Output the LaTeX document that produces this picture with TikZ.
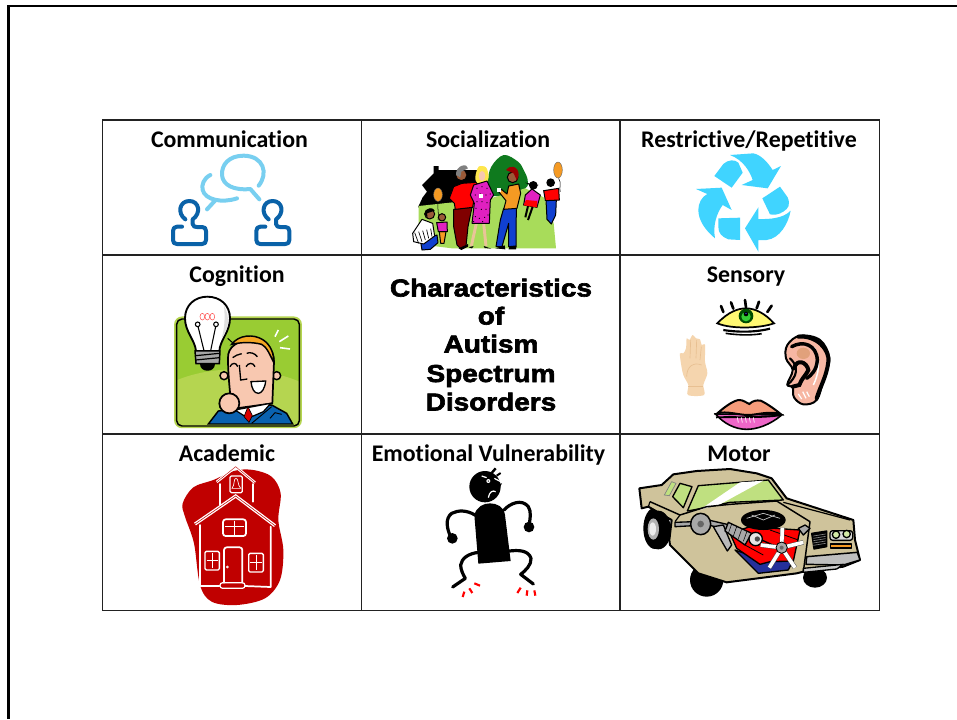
\documentclass[tikz,border=0pt]{standalone}
\usepackage{fontspec}
\setmainfont[RawFeature={-liga}]{Carlito}
\newfontfamily\blackfont[FakeBold=2.6,FakeStretch=1.14]{Liberation Sans Bold}
\definecolor{gridc}{HTML}{222222}
\definecolor{lblue}{HTML}{78CFF0}
\definecolor{dblue}{HTML}{0A62A8}
\definecolor{recy}{HTML}{40D4FF}
\definecolor{lawn}{HTML}{A8DC5A}
\definecolor{bush}{HTML}{0F7A1E}
\definecolor{orng}{HTML}{F59A23}
\definecolor{mag}{HTML}{E020C0}
\definecolor{pants}{HTML}{1040D0}
\definecolor{dred}{HTML}{800000}
\definecolor{skin}{HTML}{9A5A38}
\definecolor{grn}{HTML}{99CC33}
\definecolor{lgrn}{HTML}{B5D550}
\definecolor{suit}{HTML}{0A62B0}
\definecolor{face}{HTML}{F8C8B0}
\definecolor{hairo}{HTML}{F5A623}
\definecolor{hand}{HTML}{F5D5AE}
\definecolor{earp}{HTML}{F7B7A3}
\definecolor{lipt}{HTML}{F59B7A}
\definecolor{lipb}{HTML}{EE66C8}
\definecolor{schl}{HTML}{C00000}
\definecolor{tan}{HTML}{CFC39B}
\definecolor{glass}{HTML}{BFE080}
\definecolor{steel}{HTML}{A8A8A8}
\definecolor{navy}{HTML}{25309A}
\tikzset{
  lbl/.style={font=\fontsize{17.9}{20}\selectfont\bfseries,text=black,inner sep=0pt,anchor=base},
  ctr/.style={font=\fontsize{18.4}{20}\selectfont\blackfont,text=black,inner sep=0pt,anchor=base},
  grid line/.style={draw=gridc,line width=0.8pt},
  speech/.style={draw=lblue,line width=3pt,line cap=round,line join=round},
  person/.style={draw=dblue,line width=3pt,line cap=round,line join=round},
  ink/.style={draw=black,line width=1pt,line join=round},
  pplink/.style={draw=black,line width=0.75pt,line join=round},
  wline/.style={draw=white,line width=1.3pt,line join=round,line cap=round},
  bline/.style={draw=black,line width=2.4pt,line cap=round,line join=round},
  rtick/.style={draw=red,line width=1.6pt}
}
\begin{document}
\begin{tikzpicture}[x=0.75pt,y=-0.75pt]
\useasboundingbox (0,0) rectangle (957,719);
\fill[white] (0,0) rectangle (957,719);
% slide frame
\draw[black,line width=2pt] (957,6) -- (8.5,6) -- (8.5,719);
% table
\draw[grid line] (102.5,120) rectangle (879.5,610.5);
\draw[grid line] (361.5,120) -- (361.5,610.5);
\draw[grid line] (620,120) -- (620,610.5);
\draw[grid line] (102.5,255) -- (879.5,255);
\draw[grid line] (102.5,434) -- (879.5,434);
% labels
\node[lbl] (comm) at (229.5,147.5) {Communication};
\node[lbl] (soc) at (488,147.5) {Socialization};
\node[lbl] (rest) at (749,147.5) {Restrictive/Repetitive};
\node[lbl] (cog) at (237,282.5) {Cognition};
\node[lbl] (sens) at (746,282.5) {Sensory};
\node[lbl] (acad) at (227,461.5) {Academic};
\node[lbl] (emot) at (488.5,461.5) {Emotional Vulnerability};
\node[lbl] (motor) at (739,461.5) {Motor};
\node[ctr] (c1) at (491,296.5) {Characteristics};
\node[ctr] (c2) at (491,324.5) {of};
\node[ctr] (c3) at (491,352.5) {Autism};
\node[ctr] (c4) at (491,382) {Spectrum};
\node[ctr] (c5) at (491,410.5) {Disorders};

% ---- Communication
\begin{scope}[shift={(102,120)},scale=1/3]
\draw[speech] (470,197) .. controls (500,160) and (485,108) .. (425,107)
  .. controls (380,107) and (358,135) .. (360,165)
  .. controls (362,195) and (395,212) .. (445,207) -- (472,238);
\draw[speech] (325,165) .. controls (305,175) and (298,195) .. (302,210)
  .. controls (310,240) and (360,250) .. (405,235);
\draw[speech] (338,243) -- (315,268);
\foreach \dx in {0,250}{
\draw[person,shift={(\dx,0)}] (250,298) .. controls (225,280) and (232,243) .. (262,243)
  .. controls (292,243) and (298,280) .. (272,298) -- (272,312) .. controls (272,320) and (280,321) .. (285,321)
  -- (300,321) .. controls (308,321) and (312,325) .. (312,333) -- (312,360)
  .. controls (312,368) and (308,372) .. (300,372) -- (225,372) .. controls (217,372) and (213,368) .. (213,360)
  -- (213,333) .. controls (213,325) and (217,320) .. (225,320) -- (240,320);
}
\end{scope}

% ---- Socialization
\begin{scope}[shift={(362,120)},scale=1/3]
\fill[black] (180,195) -- (215,160) -- (215,138) -- (230,138) -- (230,150) -- (345,150) -- (385,195) -- (385,255) -- (168,262) -- (182,232) -- (195,215) -- cycle;
\fill[bush] plot[smooth cycle,tension=0.6] coordinates {(378,185) (388,140) (425,105) (468,125) (485,150) (497,180) (490,205) (430,225) (385,225)};
\fill[lawn] (170,258) -- (385,235) -- (490,205) -- (545,232) -- (575,310) -- (582,385) -- (270,385) -- (190,375) -- (170,330) -- cycle;
% balloons
\draw[black,line width=0.4pt] (228,245) .. controls (225,265) and (232,280) .. (228,300);
\draw[black,line width=0.4pt] (590,175) .. controls (600,190) and (590,205) .. (595,215);
\filldraw[fill=orng,draw=black!60,line width=0.3pt] (228,224) ellipse (13 and 20);
\filldraw[fill=orng,draw=black!60,line width=0.3pt] (588,150) ellipse (13 and 24);
% girl right
\draw[black,line width=1.5pt] (498,258) -- (490,292);
\draw[black,line width=1.5pt] (512,260) -- (498,300);
\fill[black] (490,188) -- (530,195) -- (512,200) -- cycle;
\fill[black] (514,196) circle (13);
\filldraw[fill=mag,pplink] (490,225) -- (510,207) -- (535,225) -- (525,262) -- (485,255) -- cycle;
\fill[red] (492,240) -- (525,243) -- (525,262) -- (485,256) -- cycle;
% boy right
\fill[black] (566,188) circle (13);
\filldraw[fill=pants,pplink] (552,240) -- (583,240) -- (581,285) -- (568,312) -- (555,298) -- cycle;
\filldraw[fill=red,pplink] (545,212) -- (590,205) -- (592,240) -- (550,242) -- cycle;
% crouched man
\filldraw[fill=skin,pplink] (203,282) circle (15);
\fill[black] (188,282) .. controls (190,262) and (215,260) .. (218,272) -- (195,280) -- (197,295) -- cycle;
\filldraw[fill=pants,pplink] (175,360) -- (225,345) -- (228,368) -- (205,388) -- (180,390) -- cycle;
\filldraw[fill=white,pplink] (152,340) -- (180,298) -- (212,310) -- (218,348) -- (185,372) -- (155,365) -- cycle;
\foreach \k in {0,1,2,3,4}{\draw[black,line width=0.5pt] (158+12*\k,338-3*\k) -- (170+10*\k,370-5*\k);}
% child
\filldraw[fill=skin,pplink] (240,292) circle (11);
\filldraw[fill=orng,pplink] (232,335) -- (252,335) -- (246,370) -- (236,370) -- cycle;
\filldraw[fill=mag,pplink] (224,308) -- (255,306) -- (256,335) -- (229,335) -- cycle;
% man 1
\filldraw[fill=skin,pplink] (298,165) circle (17);
\fill[gray] (282,165) .. controls (280,135) and (318,128) .. (318,145) -- (298,155) -- (295,172) -- cycle;
\filldraw[fill=dred,pplink] (275,268) -- (330,262) -- (318,320) -- (312,378) -- (295,385) -- (285,375) -- (275,320) -- cycle;
\filldraw[fill=red,pplink] (262,235) -- (275,200) -- (300,190) -- (345,187) -- (332,262) -- (280,268) -- (277,250) -- cycle;
\fill[black] (290,385) -- (318,372) -- (318,380) -- (298,390) -- cycle;
% woman
\draw[hand!80!brown,line width=2.2pt] (343,310) -- (328,378);
\draw[hand!80!brown,line width=2.2pt] (365,310) -- (372,378);
\fill[black] (320,382) -- (335,378) -- (330,385) -- cycle;
\fill[black] (365,378) -- (388,386) -- (368,384) -- cycle;
\fill[yellow!80!orange!70!white] plot[smooth cycle] coordinates {(340,170) (350,140) (372,142) (380,170) (372,190) (345,188)};
\fill[face] (360,168) ellipse (10 and 15);
\filldraw[fill=mag,pplink] (335,195) -- (375,183) -- (395,225) -- (385,240) -- (382,310) -- (330,310) -- (337,250) -- (325,225) -- cycle;
\foreach \a/\b in {345/205,360/200,375/205,340/225,355/222,372/225,385/222,345/245,360/245,375/248,342/265,358/268,372/268,340/290,352/295,368/292,378/285,335/305,362/305}{\fill[black] (\a,\b) circle (1.8);}
\fill[white] (350,222) rectangle (362,235);
% man 2
\filldraw[fill=skin,pplink] (452,172) circle (16);
\fill[schl!80!black] (432,150) .. controls (440,135) and (470,135) .. (470,165) -- (465,182) -- (455,160) -- cycle;
\filldraw[fill=pants,pplink] (425,265) -- (463,262) -- (462,378) -- (440,380) -- (440,310) -- (420,380) -- (402,380) -- (415,300) -- cycle;
\filldraw[fill=orng,pplink] (440,198) -- (470,192) -- (476,220) -- (465,265) -- (425,268) -- (432,242) -- (410,215) -- (418,208) -- (435,222) -- cycle;
\fill[white] (404,203) rectangle (416,216);
\fill[black] (400,385) -- (428,376) -- (430,388) -- cycle;
\fill[black] (442,378) -- (464,378) -- (462,388) -- (440,388) -- cycle;
\end{scope}

% ---- Recycle
\begin{scope}[shift={(620,120)},scale=1/3]
\fill[recy] (330,105) -- (400,100) .. controls (425,105) and (445,130) .. (458,150) -- (483,138) -- (443,205) -- (365,195) -- (398,180) .. controls (390,155) and (370,120) .. (330,105) -- cycle;
\fill[recy] (283,168) -- (310,132) .. controls (325,118) and (345,118) .. (355,128) -- (368,158) -- (335,203) -- cycle;
\fill[recy] (427,235) -- (480,200) -- (503,232) .. controls (512,255) and (505,265) .. (490,275) .. controls (475,285) and (460,285) .. (450,283) -- cycle;
\fill[recy] (415,262) -- (415,297) .. controls (450,298) and (490,295) .. (512,272) .. controls (505,310) and (480,355) .. (440,360) -- (415,360) -- (415,395) -- (375,325) -- cycle;
\fill[recy] (228,207) -- (305,203) -- (335,270) -- (308,255) .. controls (290,280) and (278,315) .. (285,355) .. controls (255,330) and (235,300) .. (235,270) .. controls (235,250) and (245,230) .. (262,222) -- cycle;
\fill[recy] (295,295) -- (360,293) -- (360,360) -- (325,358) .. controls (305,350) and (295,340) .. (295,320) -- cycle;
\end{scope}

% ---- Cognition
\begin{scope}[shift={(150,285)},scale=1/3]
\filldraw[fill=grn,draw=lgrn,line width=1.8pt,rounded corners=5pt] (76,98) rectangle (452,426);
\begin{scope}
\clip[rounded corners=5pt] (80,102) rectangle (448,423);
\fill[lgrn] (70,290) .. controls (180,240) and (340,240) .. (460,295) -- (460,430) -- (70,430) -- cycle;
\end{scope}
\draw[black,line width=1.1pt,rounded corners=4pt] (80,102) rectangle (448,423);
% bulb
\filldraw[fill=white,draw=black,line width=1.4pt] (138,198) .. controls (135,165) and (105,140) .. (105,100)
  .. controls (105,60) and (135,35) .. (172,35) .. controls (210,35) and (240,60) .. (240,100)
  .. controls (240,140) and (210,165) .. (208,198) -- cycle;
\fill[black!12] (222,62) .. controls (240,95) and (238,130) .. (215,160) .. controls (225,125) and (225,95) .. (222,62) -- cycle;
\draw[black,line width=0.8pt] (143,120) -- (162,197);
\draw[black,line width=0.8pt] (198,120) -- (182,197);
\filldraw[fill=white,draw=black,line width=0.8pt] (143,118) circle (7);
\filldraw[fill=white,draw=black,line width=0.8pt] (198,118) circle (7);
\draw[red!70,line width=0.4pt] (157,95) ellipse (7 and 10);
\draw[red!70,line width=0.4pt] (172,95) ellipse (7 and 10);
\draw[red!70,line width=0.4pt] (187,95) ellipse (7 and 10);
\filldraw[fill=gray!70,draw=black,line width=1.1pt] (135,198) -- (210,198) -- (208,236) -- (138,236) -- cycle;
\draw[black,line width=0.9pt] (137,212) -- (208,205);
\draw[black,line width=0.9pt] (137,225) -- (208,218);
\fill[black] (150,236) .. controls (150,265) and (195,265) .. (195,236) -- cycle;
% man
\filldraw[fill=suit,draw=black,line width=1.1pt] (175,417) -- (205,378) -- (365,360) -- (410,385) -- (428,417) -- cycle;
\draw[black,line width=0.7pt] (305,415) -- (365,365);
\draw[black,line width=0.7pt] (360,400) -- (375,383) -- (395,388);
\filldraw[fill=face,draw=black,line width=1.1pt] (222,272) circle (12);
\filldraw[fill=face,draw=black,line width=1.1pt] (380,272) circle (12);
\filldraw[fill=face,draw=black,line width=1.3pt] (234,220) .. controls (232,185) and (265,165) .. (305,165) .. controls (345,165) and (372,190) .. (372,230) -- (367,355) -- (245,372) .. controls (240,320) and (234,270) .. (234,220) -- cycle;
\filldraw[fill=white,draw=black,line width=0.9pt] (255,375) -- (362,355) -- (340,380) -- (305,395) -- (282,392) -- cycle;
\filldraw[fill=red!85!black,draw=black,line width=0.5pt] (294,365) -- (307,392) -- (297,412) -- (282,395) -- cycle;
\filldraw[fill=hairo,draw=black,line width=1.1pt] (245,178) .. controls (265,150) and (310,145) .. (340,165) .. controls (362,180) and (372,205) .. (371,232) .. controls (360,210) and (350,185) .. (335,178) .. controls (305,170) and (270,172) .. (245,178) -- cycle;
\draw[black,line width=0.8pt] (233,160) -- (250,175);
\draw[black,line width=1pt] (248,218) .. controls (255,212) and (265,208) .. (275,206);
\draw[black,line width=1pt] (290,205) .. controls (300,200) and (315,205) .. (322,215);
\draw[black,line width=1pt] (240,245) .. controls (245,232) and (260,232) .. (263,245);
\draw[black,line width=1pt] (288,245) .. controls (295,232) and (310,232) .. (315,245);
\draw[black,line width=1pt] (268,240) -- (272,285) -- (292,282);
\filldraw[fill=white,draw=black,line width=1pt] (303,290) -- (347,288) .. controls (345,310) and (335,325) .. (325,325) .. controls (312,325) and (305,310) .. (303,290) -- cycle;
\filldraw[fill=face,draw=black,line width=1.3pt] (238,355) circle (30);
\draw[white,line width=1.2pt] (375,155) -- (385,135);
\draw[white,line width=1.2pt] (388,170) -- (415,153);
\draw[white,line width=1.2pt] (390,188) -- (420,192);
\end{scope}

% ---- Sensory
\begin{scope}[shift={(660,290)},scale=1/3]
% eye
\filldraw[fill=yellow!55,draw=black,line width=1.3pt] (172,100) .. controls (205,65) and (235,55) .. (258,55) .. controls (285,55) and (315,70) .. (342,100) .. controls (300,115) and (215,118) .. (172,100) -- cycle;
\fill[black!70!green] (258,78) circle (22);
\fill[green!60!gray] (258,80) circle (14);
\fill[black] (258,72) circle (7);
\fill[blue!70] (258,70) circle (2);
\foreach \a/\b/\c/\d in {183/48/190/66,213/37/220/56,255/30/258/52,297/35/290/55,335/47/322/66}{\draw[black,line width=2pt,line cap=round] (\a,\b) -- (\c,\d);}
\draw[black,line width=1.6pt] (190,120) .. controls (240,128) and (290,126) .. (330,116);
\draw[black,line width=1.2pt] (197,130) .. controls (240,136) and (275,136) .. (305,131);
% hand
\fill[hand] plot[smooth cycle,tension=0.5] coordinates {(84,315) (85,285) (70,255) (62,215) (60,190) (70,190) (78,175) (80,145) (88,150) (98,135) (108,145) (120,148) (125,165) (135,165) (135,215) (142,250) (130,285) (132,315)};
\draw[hand!75!brown,line width=0.5pt] (92,150) -- (90,205);
\draw[hand!75!brown,line width=0.5pt] (110,150) -- (108,205);
\draw[hand!75!brown,line width=0.5pt] (124,170) -- (120,210);
\draw[hand!75!brown,line width=0.5pt] (80,260) .. controls (80,230) and (100,215) .. (125,225);
\draw[hand!75!brown,line width=0.5pt] (85,288) -- (130,288);
% ear
\filldraw[fill=earp,draw=black,line width=1.5pt] plot[smooth cycle,tension=0.6] coordinates {(382,165) (420,137) (480,150) (508,205) (490,270) (470,330) (430,343) (402,322) (398,292) (382,283) (398,240) (378,205)};
\draw[black,line width=3pt,line cap=round] (415,140) .. controls (470,135) and (510,180) .. (505,215) .. controls (500,260) and (480,290) .. (470,325);
\draw[white,line width=1.1pt] (462,172) .. controls (485,210) and (475,255) .. (460,285);
\fill[earp!60!brown] (430,190) ellipse (20 and 17);
\draw[black,line width=2.6pt,line cap=round] (395,170) .. controls (430,150) and (470,165) .. (472,210) .. controls (470,240) and (455,255) .. (440,265);
\draw[black,line width=3pt,line cap=round] (402,235) .. controls (410,205) and (440,215) .. (445,240) .. controls (435,260) and (425,265) .. (418,285) -- (398,290);
\draw[black,line width=1.6pt,line cap=round] (390,205) .. controls (418,230) and (412,260) .. (382,285);
\draw[white,line width=0.9pt] (415,312) -- (425,327);
\draw[white,line width=0.9pt] (428,305) -- (438,325);
\draw[white,line width=0.9pt] (440,305) -- (448,320);
% lips
\filldraw[fill=lipb,draw=black,line width=1.2pt] (167,372) -- (365,375) .. controls (330,405) and (290,418) .. (260,418) .. controls (225,418) and (190,400) .. (167,372) -- cycle;
\filldraw[fill=lipt,draw=black,line width=1.5pt] (172,370) .. controls (200,345) and (225,330) .. (238,330) .. controls (250,330) and (258,338) .. (268,342) .. controls (278,332) and (290,330) .. (302,332) .. controls (320,340) and (345,358) .. (362,372) .. controls (325,362) and (290,375) .. (265,375) .. controls (235,375) and (200,362) .. (172,370) -- cycle;
\draw[black,line width=1.4pt] (168,382) .. controls (220,380) and (300,385) .. (365,375);
\foreach \k in {0,1,2,3,4}{\draw[white,line width=0.5pt] (232+12*\k,382) -- (235+12*\k,398);}
\end{scope}

% ---- Academic
\begin{scope}[shift={(170,460)},scale=1/3]
\fill[schl] plot[smooth cycle,tension=0.55] coordinates {(38,130) (70,82) (130,60) (195,32) (250,30) (305,50) (332,100) (325,180) (340,270) (330,360) (285,415) (200,435) (125,425) (90,375) (72,250) (45,170)};
% walls and floor
\draw[wline] (90,195) -- (90,378) -- (148,378);
\draw[wline] (302,200) -- (302,381) -- (225,378);
\draw[wline] (150,135) -- (150,72);
\draw[wline] (250,125) -- (250,72);
% roof
\draw[white,line width=2.4pt,line join=miter] (75,192) -- (197,108) -- (315,197);
\draw[schl,line width=0.4pt,line join=miter] (75,192) -- (197,108) -- (315,197);
\draw[white,line width=2pt,line join=miter] (140,66) -- (197,20) -- (255,68);
\draw[schl,line width=0.3pt,line join=miter] (140,66) -- (197,20) -- (255,68);
% bell
\draw[wline,line width=0.9pt,rounded corners=1pt] (180,48) rectangle (217,98);
\draw[white,line width=0.5pt] (186,85) .. controls (195,75) and (190,55) .. (198,55) .. controls (206,55) and (202,75) .. (212,85) -- cycle;
% upper window
\draw[wline,rounded corners=2pt] (159,178) rectangle (228,228);
\draw[white,line width=0.5pt] (165,198) -- (222,198);
\draw[white,line width=0.5pt] (192,182) -- (192,224);
% door
\draw[wline,rounded corners=2pt] (162,368) -- (162,262) -- (217,262) -- (217,368);
\draw[wline,line width=0.9pt,rounded corners=2pt] (150,368) rectangle (225,385);
\draw[white,line width=0.5pt] (172,321) circle (3);
% side windows
\draw[wline,line width=1pt,rounded corners=1pt] (105,274) rectangle (148,330);
\draw[white,line width=0.5pt] (110,300) -- (144,300);
\draw[white,line width=0.5pt] (127,280) -- (127,325);
\draw[wline,line width=1pt,rounded corners=1pt] (236,280) rectangle (280,336);
\draw[white,line width=0.5pt] (241,306) -- (276,306);
\draw[white,line width=0.5pt] (258,285) -- (258,330);
\end{scope}

% ---- Emotional
\begin{scope}[shift={(430,465)},scale=1/3]
\fill[black] (165,65) circle (47);
\fill[black] (195,60) -- (216,55) -- (205,75) -- cycle;
\draw[white,line width=0.9pt] (155,33) -- (170,38);
\fill[white] (175,48) circle (6);
\fill[black] (175,48) circle (2);
\draw[white,line width=0.9pt] (193,40) -- (212,50);
\draw[white,line width=0.9pt] (175,98) .. controls (178,80) and (188,75) .. (197,80);
\draw[black,line width=1.8pt] (185,24) -- (197,10);
\draw[black,line width=1.5pt] (200,32) -- (212,24);
\fill[black] (133,150) .. controls (140,125) and (160,115) .. (180,115) .. controls (200,115) and (222,125) .. (225,150) -- (242,288) -- (145,296) -- cycle;
\draw[bline] (135,150) .. controls (110,135) and (85,135) .. (65,145) .. controls (45,160) and (50,190) .. (62,215);
\fill[black] (67,220) circle (16);
\draw[bline] (222,135) .. controls (240,115) and (275,100) .. (295,125) .. controls (305,140) and (300,165) .. (297,180);
\fill[black] (297,186) circle (16);
\draw[bline] (147,262) .. controls (115,265) and (95,280) .. (92,300) .. controls (92,315) and (100,330) .. (106,340) -- (68,366);
\draw[bline] (238,258) .. controls (265,255) and (295,255) .. (303,280) .. controls (305,300) and (285,318) .. (272,328) -- (310,357);
\draw[rtick] (98,396) -- (103,380);
\draw[rtick] (127,384) -- (118,370);
\draw[rtick] (150,362) -- (133,355);
\draw[rtick] (262,384) -- (272,368);
\draw[rtick] (290,392) -- (292,376);
\draw[rtick] (316,392) -- (313,376);
\end{scope}

% ---- Motor
\begin{scope}[shift={(630,465)},scale=1/3]
% wheels
\fill[black] (75,190) ellipse (35 and 62);
\fill[black] (230,345) ellipse (50 and 50);
\fill[black] (555,338) ellipse (36 and 30);
% body
\filldraw[fill=tan,ink,line width=1.5pt] (28,70) -- (95,60) -- (130,28) -- (200,18) -- (300,12) -- (380,25) -- (425,40) -- (470,100) -- (670,165) -- (675,225) -- (690,285) -- (640,305) -- (520,320) -- (500,325) -- (290,352) -- (205,325) -- (120,240) -- (118,225) -- (125,165) -- (55,125) -- (35,130) -- cycle;
% rear wheel rim
\fill[black] (85,195) ellipse (38 and 58);
\fill[gray!60] (70,192) ellipse (17 and 32);
\fill[white!85!gray] (68,192) ellipse (10 and 20);
% windows
\filldraw[fill=glass,ink] (172,138) -- (205,62) -- (415,45) -- (460,105) -- (300,112) -- (205,132) -- cycle;
\fill[white] (208,135) -- (330,52) -- (400,47) -- (270,118) -- cycle;
\filldraw[fill=glass,ink] (128,95) -- (150,55) -- (186,65) -- (160,128) -- cycle;
\filldraw[fill=glass,draw=black!50,line width=0.5pt] (103,90) -- (125,50) -- (138,55) -- (118,92) -- cycle;
% body lines
\draw[ink,line width=1.1pt] (60,110) -- (150,150) -- (230,125) -- (300,118) -- (440,108) -- (540,170) -- (520,320);
\draw[ink,line width=0.9pt] (460,112) -- (660,165);
\draw[ink,line width=0.9pt] (60,110) -- (55,125);
\draw[ink,line width=0.9pt] (150,150) -- (135,170);
% engine
\filldraw[fill=navy,ink] (315,255) -- (385,325) -- (475,315) -- (490,285) -- (410,288) -- cycle;
\filldraw[fill=red,ink] (300,205) -- (360,185) -- (510,195) -- (490,288) -- (420,290) -- (390,298) -- (320,250) -- cycle;
\draw[black,line width=0.6pt] (420,195) -- (505,225);
\draw[black,line width=0.6pt] (345,240) -- (400,270);
\filldraw[fill=black,ink] (400,165) ellipse (65 and 28);
\draw[gray!40,line width=0.5pt] (350,160) -- (400,145) -- (450,160);
\draw[gray!40,line width=0.5pt] (365,150) -- (400,165) -- (435,150);
\filldraw[fill=steel,ink] (505,190) -- (525,180) -- (540,190) -- (520,210) -- cycle;
% drive train
\filldraw[fill=steel,ink] (135,172) -- (190,170) -- (190,182) -- (135,185) -- cycle;
\filldraw[fill=steel,ink] (235,165) -- (300,180) -- (295,195) -- (235,180) -- cycle;
\filldraw[fill=steel!80,ink] (250,185) -- (280,180) -- (305,240) -- (292,258) -- cycle;
\filldraw[fill=steel,ink,line width=1.1pt] (212,177) ellipse (30 and 32);
\fill[black!60] (212,177) circle (10);
\filldraw[fill=steel,ink] (295,172) -- (365,205) -- (345,240) -- (285,198) -- cycle;
\foreach \k in {0,1,2,3}{\draw[black,line width=0.4pt] (305+15*\k,177+8*\k) -- (295+15*\k,205+8*\k);}
\filldraw[fill=white!80!gray,ink] (377,222) circle (20);
\fill[black!70] (382,222) circle (8);
\draw[black,line width=1pt] (395,225) -- (440,245);
% fan
\foreach \ex/\ey in {457/188,520/232,495/308,418/308,392/240}{
\draw[black!70,line width=3.4pt] (455,248) -- (\ex,\ey);
\draw[white,line width=2.7pt] (455,248) -- (\ex,\ey);
}
\filldraw[fill=steel,draw=black,line width=0.6pt] (455,248) circle (17);
\fill[black!60] (455,248) circle (6);
% front
\filldraw[fill=black,ink] (545,205) -- (590,198) -- (590,245) -- (552,252) -- cycle;
\foreach \k in {0,1,2,3,4}{\draw[gray,line width=0.5pt] (550,213+7*\k) -- (587,207+7*\k);}
\filldraw[fill=gray!30,ink,rounded corners=2pt] (600,197) rectangle (668,226);
\filldraw[fill=glass!70!white,ink] (618,209) circle (11);
\filldraw[fill=glass!70!white,ink] (650,207) circle (11);
\filldraw[fill=orng,ink] (602,237) rectangle (664,249);
\filldraw[fill=gray!50,ink,line width=1.1pt] (530,275) -- (682,262) -- (690,285) -- (640,300) -- (528,298) -- cycle;
\filldraw[fill=gray!40,ink] (520,310) -- (640,298) -- (620,312) -- (520,322) -- cycle;
\end{scope}
\end{tikzpicture}
\end{document}
